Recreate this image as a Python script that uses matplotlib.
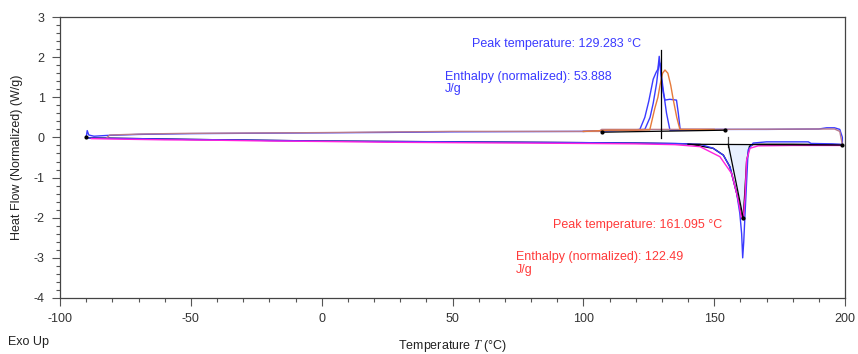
import numpy as np
import matplotlib
matplotlib.use("Agg")
import matplotlib.pyplot as plt

plt.rcParams['font.family'] = ['Liberation Sans', 'DejaVu Sans']
plt.rcParams['axes.unicode_minus'] = False
plt.rcParams['mathtext.fontset'] = 'stix'

# ---------------- data ----------------
# Run A (blue): heating
a_heat_T = [-90, -89.6, -89, -87, -82, -70, -50, -25, 0, 25, 50, 75, 100, 115, 119, 121.6, 123.5,
            125, 126.7, 127.8, 128.5, 129.0, 129.4, 129.9, 130.6, 131.2, 133, 135.6, 136.3, 137,
            145, 170, 190, 193, 196, 198, 199]
a_heat_hf = [0.0, 0.17, 0.06, 0.03, 0.05, 0.075, 0.095, 0.105, 0.115, 0.125, 0.14, 0.145, 0.15, 0.18, 0.18,
             0.2, 0.5, 0.9, 1.45, 1.62, 1.7, 2.02, 1.75, 1.4, 1.1, 0.93, 0.95, 0.93, 0.6, 0.2,
             0.2, 0.2, 0.21, 0.24, 0.24, 0.2, 0.0]
# Run A (blue): cooling
a_cool_T = [-90, -85, -70, -50, -25, 0, 25, 50, 75, 100, 120, 135, 144.6, 149.6, 153.5, 156, 158.6,
            159.8, 160.5, 160.9, 161.3, 161.8, 162.4, 163, 164.9, 170, 186, 187, 195, 198, 199]
a_cool_hf = [-0.01, -0.02, -0.03, -0.05, -0.07, -0.09, -0.1, -0.11, -0.12, -0.13, -0.14, -0.15,
             -0.17, -0.27, -0.44, -0.73, -1.39, -1.89, -2.4, -3.0, -2.6, -1.9, -1.1, -0.31, -0.14,
             -0.11, -0.11, -0.15, -0.16, -0.17, -0.18]

# Run B (blue): heating peak
b_heat_T = [100, 119, 123.5, 125.5, 126.7, 128, 128.8, 129.3, 130.5, 131.8, 133.1, 134, 150]
b_heat_hf = [0.15, 0.18, 0.2, 0.5, 0.85, 1.35, 1.8, 1.85, 1.2, 0.6, 0.18, 0.18, 0.19]

# Run C (orange heating, magenta cooling)
c_heat_T = [100, 110, 120, 125.4, 127.3, 128.5, 129.3, 130.3, 131.2, 132.3, 133.4, 134.4, 135.7,
            136.9, 140, 150]
c_heat_hf = [0.15, 0.18, 0.18, 0.19, 0.72, 1.0, 1.3, 1.6, 1.68, 1.6, 1.3, 0.93, 0.5, 0.2, 0.2, 0.2]
c_cool_T = [-88, -80, -60, -40, -20, 0, 25, 50, 75, 100, 120, 135, 144.6, 152.2, 156.7, 159, 160.5,
            161.1, 161.8, 162.4, 163.7, 166.8, 180, 199]
c_cool_hf = [-0.03, -0.04, -0.06, -0.07, -0.09, -0.1, -0.12, -0.13, -0.14, -0.15, -0.16, -0.18,
             -0.23, -0.48, -0.9, -1.5, -2.02, -2.05, -1.5, -0.56, -0.27, -0.21, -0.2, -0.2]

# Overlapping heating baselines (mauve)
base_heat_T = [-82, -81, -69, -53, 0, 50, 106, 107, 150, 190, 196, 198, 199]
base_heat_hf = [0.0, 0.06, 0.085, 0.1, 0.12, 0.15, 0.15, 0.2, 0.2, 0.21, 0.21, 0.15, -0.18]

# Black cooling curve
k_cool_T = [-90, -70, -50, -25, 0, 25, 50, 75, 100, 120, 140, 149.6, 153.5, 156, 158.6, 160.5,
            161.1, 161.6, 162.4, 163.5, 165, 180, 199]
k_cool_hf = [-0.01, -0.03, -0.05, -0.07, -0.09, -0.1, -0.11, -0.12, -0.13, -0.14, -0.16, -0.27,
             -0.44, -0.73, -1.39, -1.95, -2.0, -1.5, -0.6, -0.22, -0.17, -0.17, -0.18]

# Analysis marks
heat_base_T = [107, 154]
heat_base_hf = [0.13, 0.18]
cool_base_T = [140, 199]
cool_base_hf = [-0.17, -0.19]
heat_peak_T = 129.5
heat_peak_span = [-0.02, 2.18]
cool_onset_T = 155.4
cool_onset_span = [0.02, -0.24]
cool_peak = (161.1, -2.0)
fill_T = [155.4, 163.2]

peak_heat_text = "Peak temperature: 129.283 °C"
enth_heat_text = "Enthalpy (normalized): 53.888\nJ/g"
peak_cool_text = "Peak temperature: 161.095 °C"
enth_cool_text = "Enthalpy (normalized): 122.49\nJ/g"

x_ticks = [-100, -50, 0, 50, 100, 150, 200]
y_ticks = [-4, -3, -2, -1, 0, 1, 2, 3]

# ---------------- plot ----------------
fig = plt.figure(figsize=(8.58, 3.54), dpi=100)
ax = fig.add_axes([60/858, 1-298/354, (845-60)/858, (298-17)/354])

BLUE = "#3a3aff"
ORANGE = "#e67a3a"
MAGENTA = "#ff22dd"
MAUVE = "#b87a8c"
RED = "#ff3a3a"

# fill under cooling peak
ft = np.linspace(fill_T[0], fill_T[1], 200)
curve = np.interp(ft, c_cool_T, c_cool_hf)
bl = np.interp(ft, cool_base_T, cool_base_hf)
ax.fill_between(ft, bl, np.minimum(curve, bl), color="#e8f0ff", zorder=1)

ax.plot(k_cool_T, k_cool_hf, color="black", lw=1.0, zorder=2)
ax.plot(a_heat_T + a_cool_T[::-1], a_heat_hf + a_cool_hf[::-1], color=BLUE, lw=1.0, zorder=3)
ax.plot(b_heat_T, b_heat_hf, color=BLUE, lw=1.0, zorder=3)
ax.plot(c_cool_T, c_cool_hf, color=MAGENTA, lw=1.0, zorder=3)
ax.plot(base_heat_T, base_heat_hf, color=MAUVE, lw=1.0, zorder=4)
ax.plot(c_heat_T, c_heat_hf, color=ORANGE, lw=1.0, zorder=4)

# analysis lines
ax.plot(heat_base_T, heat_base_hf, color="black", lw=0.9, zorder=5)
ax.plot(cool_base_T, cool_base_hf, color="black", lw=0.9, zorder=5)
ax.plot([heat_peak_T, heat_peak_T], heat_peak_span, color="black", lw=0.9, zorder=5)
ax.plot([cool_onset_T, cool_onset_T], cool_onset_span, color="#444444", lw=0.9, zorder=5)
ax.plot([cool_onset_T, cool_peak[0]], [cool_base_hf[0], cool_peak[1]], color="black", lw=0.9, zorder=5)
ax.plot([heat_base_T[0], heat_base_T[1], -90, 199, cool_peak[0]],
        [heat_base_hf[0], heat_base_hf[1], 0.0, -0.2, cool_peak[1]],
        ls="none", marker="o", ms=2, color="black", zorder=6)

# annotations
ax.text(57.4, 2.33, peak_heat_text, color=BLUE, fontsize=9, va="center", ha="left")
ax.text(47.1, 1.36, enth_heat_text, color=BLUE, fontsize=9, va="center", ha="left", linespacing=1.05)
ax.text(88.4, -2.18, peak_cool_text, color=RED, fontsize=9, va="center", ha="left")
ax.text(74.2, -3.14, enth_cool_text, color=RED, fontsize=9, va="center", ha="left", linespacing=1.05)

ax.set_xlim(-100, 200)
ax.set_ylim(-4, 3)
ax.set_xticks(x_ticks)
ax.set_yticks(y_ticks)
ax.set_xticks(np.arange(-100, 201, 10), minor=True)
ax.set_yticks(np.arange(-4, 3.01, 0.2), minor=True)
ax.tick_params(axis="both", which="major", length=6, width=0.8, color="#555555",
               labelsize=9, labelcolor="#333333", pad=5)
ax.tick_params(axis="both", which="minor", length=3, width=0.8, color="#555555")
for s in ax.spines.values():
    s.set_color("#444444")
    s.set_linewidth(0.9)

ax.set_xlabel("Temperature $T$ (°C)", fontsize=9, color="#222222", labelpad=9)
ax.set_ylabel("Heat Flow (Normalized) (W/g)", fontsize=9, color="#222222", labelpad=8)
fig.text(8/858, 1-342/354, "Exo Up", fontsize=9, color="#222222", va="center", ha="left")

fig.savefig("out.png", dpi=100)
